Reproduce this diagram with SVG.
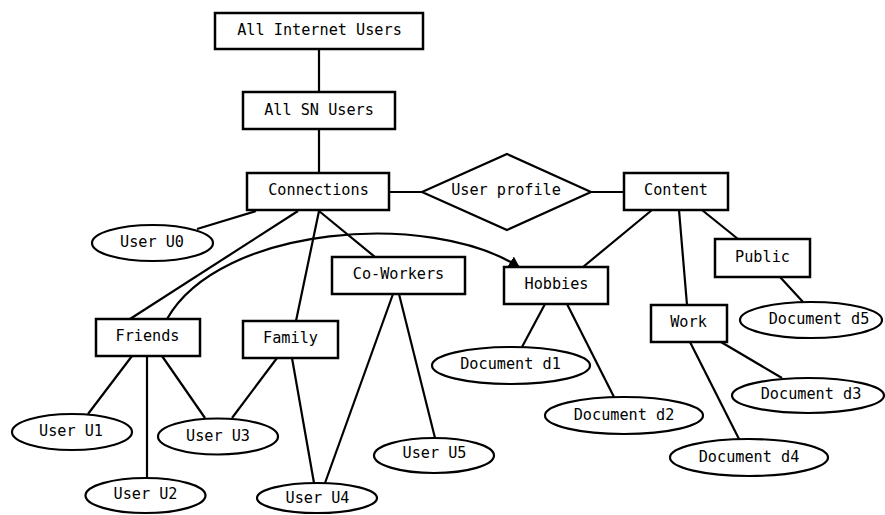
<svg xmlns="http://www.w3.org/2000/svg" width="885" height="515" viewBox="0 0 885 515">
<style>
rect{fill:#fff;stroke:#000;stroke-width:2.5}
ellipse{fill:#fff;stroke:#000;stroke-width:2.2}
polygon.d{fill:#fff;stroke:#000;stroke-width:2.2}
#connectors line,#connectors path{stroke:#000;stroke-width:2.2;fill:none}
text{font-family:"DejaVu Sans Mono","Liberation Mono",monospace;font-size:15.2px;fill:#000;text-anchor:middle;dominant-baseline:central}
</style>
<defs>
<marker id="arr" markerWidth="12" markerHeight="12" refX="10" refY="6" orient="auto" markerUnits="userSpaceOnUse">
<path d="M0,0 L11,6 L0,12 z" fill="#000"/>
</marker>
</defs>
<rect x="0" y="0" width="885" height="515" style="fill:#fff;stroke:none"/>
<g id="connectors">
<line x1="319" y1="49" x2="319" y2="92"/>
<line x1="319" y1="129" x2="319" y2="173"/>
<line x1="389" y1="192" x2="422" y2="192"/>
<line x1="591" y1="192" x2="624" y2="192"/>
<line x1="256" y1="211" x2="197" y2="229"/>
<line x1="298" y1="211" x2="130" y2="319"/>
<line x1="319" y1="211" x2="296" y2="321"/>
<line x1="319" y1="211" x2="375" y2="257"/>
<line x1="132" y1="356" x2="88" y2="414"/>
<line x1="147" y1="356" x2="147" y2="478"/>
<line x1="162" y1="356" x2="205" y2="418"/>
<line x1="277" y1="358" x2="232" y2="418"/>
<line x1="292" y1="358" x2="314" y2="483"/>
<line x1="393" y1="294" x2="325" y2="483"/>
<line x1="399" y1="294" x2="435" y2="438"/>
<line x1="652" y1="210" x2="583" y2="267"/>
<line x1="679" y1="210" x2="687" y2="305"/>
<line x1="702" y1="210" x2="738" y2="239"/>
<line x1="545" y1="304" x2="522" y2="347"/>
<line x1="567" y1="304" x2="614" y2="397"/>
<line x1="780" y1="277" x2="803" y2="302"/>
<line x1="721" y1="342" x2="782" y2="378"/>
<line x1="690" y1="342" x2="739" y2="439"/>
<path d="M167,319 C220,225 430,210 519,267" marker-end="url(#arr)"/>
</g>
<g id="all-internet-users"><rect x="215" y="13" width="208" height="36"/><text x="319.5" y="30">All Internet Users</text></g>
<g id="all-sn-users"><rect x="243" y="92" width="152" height="37"/><text x="319" y="110">All SN Users</text></g>
<g id="connections"><rect x="247" y="173" width="142" height="37"/><text x="318.5" y="190">Connections</text></g>
<g id="user-profile"><polygon class="d" points="422,192 507,154 591,192 507,230"/><text x="506" y="190">User profile</text></g>
<g id="content"><rect x="624" y="173" width="104" height="37"/><text x="676" y="190">Content</text></g>
<g id="user-u0"><ellipse cx="152.5" cy="243" rx="60.5" ry="18"/><text x="152" y="242">User U0</text></g>
<g id="co-workers"><rect x="332" y="257" width="133" height="37"/><text x="398.5" y="274">Co-Workers</text></g>
<g id="hobbies"><rect x="504" y="267" width="104" height="37"/><text x="556.5" y="284">Hobbies</text></g>
<g id="public"><rect x="715" y="239" width="95" height="38"/><text x="762.5" y="257">Public</text></g>
<g id="friends"><rect x="96" y="319" width="104" height="37"/><text x="147.5" y="336">Friends</text></g>
<g id="family"><rect x="243" y="321" width="95" height="37"/><text x="290.5" y="338">Family</text></g>
<g id="work"><rect x="651" y="305" width="76" height="37"/><text x="688.5" y="322">Work</text></g>
<g id="document-d5"><ellipse cx="811" cy="320" rx="71" ry="18"/><text x="819" y="319">Document d5</text></g>
<g id="document-d1"><ellipse cx="511" cy="365.5" rx="79" ry="18.5"/><text x="510.5" y="364">Document d1</text></g>
<g id="document-d3"><ellipse cx="808" cy="395.5" rx="76" ry="17.5"/><text x="811" y="394">Document d3</text></g>
<g id="document-d2"><ellipse cx="624" cy="415.5" rx="79" ry="18.5"/><text x="624" y="415">Document d2</text></g>
<g id="document-d4"><ellipse cx="749" cy="457.5" rx="79" ry="18.5"/><text x="749" y="457">Document d4</text></g>
<g id="user-u1"><ellipse cx="72" cy="432" rx="60" ry="18"/><text x="71" y="431">User U1</text></g>
<g id="user-u3"><ellipse cx="218" cy="436.5" rx="60" ry="18"/><text x="218" y="436">User U3</text></g>
<g id="user-u5"><ellipse cx="434" cy="455.5" rx="60" ry="17.5"/><text x="434.5" y="453">User U5</text></g>
<g id="user-u2"><ellipse cx="145.5" cy="495.5" rx="60" ry="17.5"/><text x="145.5" y="494">User U2</text></g>
<g id="user-u4"><ellipse cx="317" cy="498" rx="60" ry="15"/><text x="317.5" y="498">User U4</text></g>
</svg>
